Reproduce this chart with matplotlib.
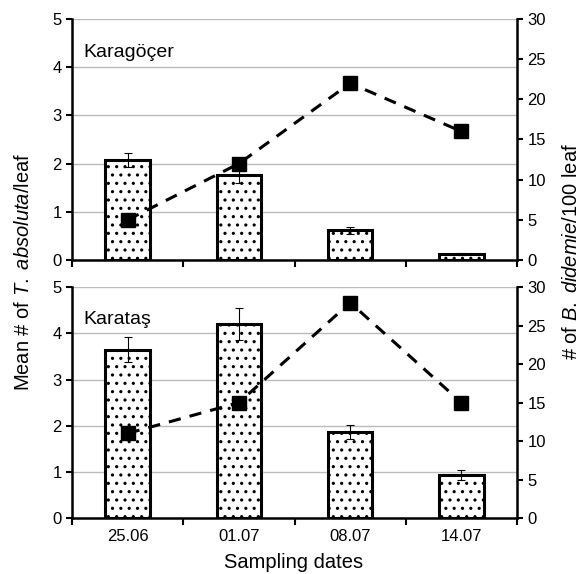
import matplotlib

matplotlib.use("Agg")
from matplotlib import pyplot as plt

plt.rcParams["font.family"] = ["Liberation Sans", "DejaVu Sans"]
plt.rcParams["mathtext.fontset"] = "custom"
plt.rcParams["mathtext.rm"] = "Liberation Sans"
plt.rcParams["mathtext.it"] = "Liberation Sans:italic"
plt.rcParams["hatch.linewidth"] = 1.1

dates = ["25.06", "01.07", "08.07", "14.07"]
sites = ["Karagöçer", "Karataş"]

# mean T. absoluta per leaf (bars) and standard errors
absoluta_mean = [[2.07, 1.77, 0.62, 0.12], [3.65, 4.20, 1.87, 0.93]]
absoluta_err = [[0.15, 0.17, 0.07, 0.02], [0.27, 0.35, 0.15, 0.10]]
# B. didemie per 100 leaves (line, secondary axis)
didemie = [[5, 12, 22, 16], [11, 15, 28, 15]]

fig = plt.figure(figsize=(5.81, 5.74), dpi=100)
positions = [[0.124, 0.547, 0.766, 0.420], [0.124, 0.0976, 0.766, 0.402]]
x = list(range(len(dates)))

for i, site in enumerate(sites):
    ax = fig.add_axes(positions[i])
    ax.bar(x, absoluta_mean[i], width=0.4, color="white", edgecolor="black",
           linewidth=2.2, hatch="..", zorder=2)
    ax.errorbar(x, absoluta_mean[i], yerr=absoluta_err[i], fmt="none",
                ecolor="black", elinewidth=0.8, capsize=3, capthick=0.8, zorder=3)
    ax.set_xlim(-0.5, 3.5)
    ax.set_ylim(0, 5)
    ax.set_yticks(range(6))
    ax.yaxis.grid(True, color="#bbbbbb", linewidth=1, zorder=0)
    ax.set_axisbelow(True)
    ax.set_xticks([-0.5, 0.5, 1.5, 2.5, 3.5])
    ax.set_xticklabels([])
    ax.set_xticks(x, minor=True)
    if i == 1:
        ax.set_xticklabels(dates, minor=True)
    ax.tick_params(axis="x", which="minor", length=0, labelsize=12, pad=8)
    ax.tick_params(axis="x", which="major", length=5, width=1.5, direction="out")
    ax.tick_params(axis="y", length=4, width=1.5, labelsize=12)
    for side in ["top", "right"]:
        ax.spines[side].set_visible(False)
    ax.spines["left"].set_linewidth(1.8)
    ax.spines["bottom"].set_linewidth(1.8)
    ax.text(0.025, 0.86, site, transform=ax.transAxes, fontsize=14, va="center")

    ax2 = ax.twinx()
    ax2.plot(x, didemie[i], color="black", linestyle=(0, (4, 3)), linewidth=2.2,
             marker="s", markersize=10)
    ax2.set_ylim(0, 30)
    ax2.set_yticks(range(0, 31, 5))
    ax2.tick_params(axis="y", length=4, width=1.5, labelsize=12)
    for side in ["top", "left", "bottom"]:
        ax2.spines[side].set_visible(False)
    ax2.spines["right"].set_linewidth(1.8)

fig.text(0.04, 0.526, r"Mean # of $\mathit{T.\ absoluta}$/leaf", rotation=90,
         ha="center", va="center", fontsize=14.5)
fig.text(0.984, 0.561, r"# of $\mathit{B.\ didemie}$/100 leaf", rotation=90,
         ha="center", va="center", fontsize=14.5)
fig.text(0.505, 0.003, "Sampling dates", ha="center", va="bottom", fontsize=14.5)

fig.savefig("out.png", dpi=100)
